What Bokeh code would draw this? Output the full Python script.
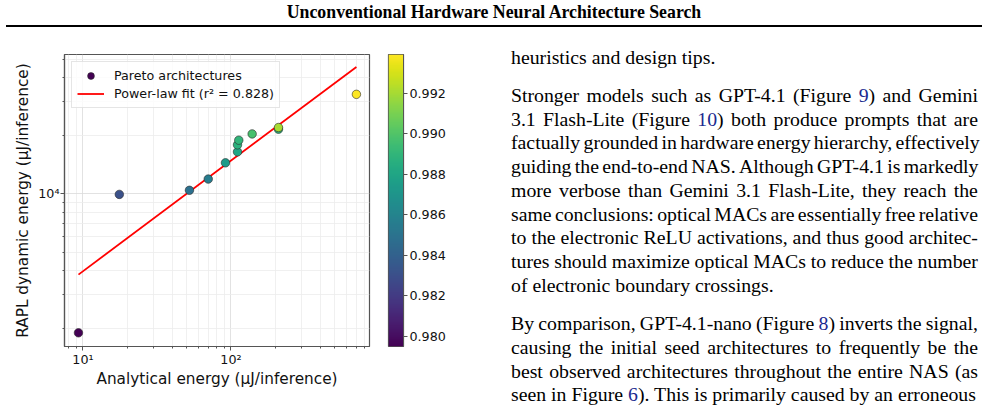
import re

import numpy as np
from bokeh.embed import file_html
from bokeh.layouts import column, row
from bokeh.models import (ColumnDataSource, Div, FixedTicker, Label, Legend,
                          LegendItem, LinearColorMapper, PrintfTickFormatter,
                          Range1d)
from bokeh.palettes import Viridis256
from bokeh.plotting import figure
from bokeh.resources import INLINE
from bokeh.transform import linear_cmap

# ---------------------------------------------------------------- data
# Pareto-front architectures: analytical vs measured (RAPL) energy
analytical_uj = [9.32, 17.6, 52.4, 70.2, 91.8, 110.7, 110.7, 112.9, 139.0, 209.4, 209.4, 704.0]
rapl_uj = [1905, 9950, 10450, 11950, 14510, 16540, 17980, 19010, 20490, 21680, 22120, 32870]
mnist_acc = [0.9795, 0.9831, 0.9848, 0.9856, 0.9874, 0.9880, 0.9887, 0.9890, 0.9897,
             0.9888, 0.9920, 0.9939]
fit_r2 = 0.828

x_ticks = [10, 100]
x_tick_labels = {10: "10\u00b9", 100: "10\u00b2"}
x_minor = [8, 9, 20, 30, 40, 50, 60, 70, 80, 90, 200, 300, 400, 500, 600, 700, 800]
y_ticks = [10000]
y_tick_labels = {10000: "10\u2074"}
y_minor = [2000, 3000, 4000, 5000, 6000, 7000, 8000, 9000, 20000, 30000, 40000, 50000]
acc_ticks = [0.980, 0.982, 0.984, 0.986, 0.988, 0.990, 0.992]

header_title = "Unconventional Hardware Neural Architecture Search"
paragraphs = [
    ["heuristics and design tips."],
    ["Stronger models such as GPT-4.1 (Figure {9}) and Gemini",
     "3.1 Flash-Lite (Figure {10}) both produce prompts that are",
     "factually grounded in hardware energy hierarchy, effectively",
     "guiding the end-to-end NAS. Although GPT-4.1 is markedly",
     "more verbose than Gemini 3.1 Flash-Lite, they reach the",
     "same conclusions: optical MACs are essentially free relative",
     "to the electronic ReLU activations, and thus good architec-",
     "tures should maximize optical MACs to reduce the number",
     "of electronic boundary crossings."],
    ["By comparison, GPT-4.1-nano (Figure {8}) inverts the signal,",
     "causing the initial seed architectures to frequently be the",
     "best observed architectures throughout the entire NAS (as",
     "seen in Figure {6}). This is primarily caused by an erroneous"],
]

# ---------------------------------------------------------------- styles
SANS = "DejaVu Sans"
TICK_PX = "12.7px"
LABEL_PX = "15.3px"
CB_LABEL_PX = "14.8px"
SPINE = "#555555"

acc_min, acc_max = min(mnist_acc), max(mnist_acc)

# ---------------------------------------------------------------- power-law fit
slope, intercept = np.polyfit(np.log10(analytical_uj), np.log10(rapl_uj), 1)
fit_x = np.array([min(analytical_uj), max(analytical_uj)])
fit_y = 10 ** intercept * fit_x ** slope

# ---------------------------------------------------------------- scatter figure
p = figure(width=376, height=378, x_axis_type="log", y_axis_type="log",
           x_range=Range1d(7.5, 863), y_range=Range1d(1618, 52900),
           output_backend="svg", toolbar_location=None,
           min_border_left=64, min_border_right=7, min_border_top=20,
           min_border_bottom=65)
p.background_fill_color = "white"
p.border_fill_color = "white"
p.outline_line_color = SPINE
p.outline_line_width = 1.2

p.xaxis.ticker = FixedTicker(ticks=x_ticks, minor_ticks=x_minor)
p.xaxis.major_label_overrides = x_tick_labels
p.yaxis.ticker = FixedTicker(ticks=y_ticks, minor_ticks=y_minor)
p.yaxis.major_label_overrides = y_tick_labels
p.xaxis.axis_label = "Analytical energy (\u03bcJ/inference)"
p.yaxis.axis_label = "RAPL dynamic energy (\u03bcJ/inference)"
for ax in (p.xaxis, p.yaxis):
    ax.axis_line_color = SPINE
    ax.axis_line_width = 1.2
    ax.major_tick_line_color = SPINE
    ax.minor_tick_line_color = SPINE
    ax.major_tick_out = 4
    ax.major_tick_in = 0
    ax.minor_tick_out = 2
    ax.minor_tick_in = 0
    ax.major_label_standoff = 1
    ax.major_label_text_font = SANS
    ax.major_label_text_font_size = TICK_PX
    ax.major_label_text_color = "#111111"
    ax.axis_label_text_font = SANS
    ax.axis_label_text_font_size = LABEL_PX
    ax.axis_label_text_font_style = "normal"
    ax.axis_label_text_color = "#111111"
p.xaxis.axis_label_standoff = 0
p.yaxis.axis_label_standoff = 3

for g in (p.xgrid, p.ygrid):
    g.grid_line_color = "#dadada"
    g.grid_line_width = 0.8
    g.minor_grid_line_color = "#ececec"
    g.minor_grid_line_width = 0.8

fit_r = p.line(fit_x, fit_y, line_color="#ff0000", line_width=1.8)

src = ColumnDataSource(dict(x=analytical_uj, y=rapl_uj, acc=mnist_acc))
pts = p.scatter("x", "y", source=src, size=8.5,
                fill_color=linear_cmap("acc", Viridis256, acc_min, acc_max),
                line_color="#2a2a2a", line_width=0.6)

legend = Legend(items=[
    LegendItem(label="Pareto architectures", renderers=[pts], index=0),
    LegendItem(label=f"Power-law fit (r\u00b2 = {fit_r2:.3f})", renderers=[fit_r]),
], location="top_left")
legend.margin = 7
legend.padding = 5
legend.spacing = 1
legend.label_height = 17
legend.glyph_height = 17
legend.glyph_width = 27
legend.label_standoff = 10
legend.label_text_font = SANS
legend.label_text_font_size = TICK_PX
legend.label_text_color = "#111111"
legend.background_fill_color = "white"
legend.background_fill_alpha = 0.8
legend.border_line_color = "#cccccc"
legend.border_line_width = 1
p.add_layout(legend)

# ---------------------------------------------------------------- colour bar
cb = figure(width=114, height=378, x_range=Range1d(0, 1),
            y_range=Range1d(acc_min, acc_max), x_axis_location=None,
            y_axis_location="right", output_backend="svg", toolbar_location=None,
            min_border_left=12, min_border_right=87, min_border_top=20,
            min_border_bottom=66)
cb.grid.visible = False
cb.outline_line_color = SPINE
cb.outline_line_width = 1.2
gradient = np.linspace(acc_min, acc_max, 256).reshape(-1, 1)
cb.image(image=[gradient], x=0, y=acc_min, dw=1, dh=acc_max - acc_min,
         color_mapper=LinearColorMapper(palette=Viridis256, low=acc_min, high=acc_max))
ya = cb.yaxis[0]
ya.ticker = FixedTicker(ticks=acc_ticks)
ya.formatter = PrintfTickFormatter(format="%.3f")
ya.axis_line_color = SPINE
ya.major_tick_line_color = SPINE
ya.major_tick_out = 4
ya.major_tick_in = 0
ya.minor_tick_out = 0
ya.minor_tick_in = 0
ya.major_label_standoff = 2
ya.major_label_text_font = SANS
ya.major_label_text_font_size = TICK_PX
ya.major_label_text_color = "#111111"
cb.add_layout(Label(x=69, y=145, x_units="screen", y_units="screen",
                    text="MNIST accuracy", angle=np.pi / 2, text_align="center",
                    text_baseline="middle", text_font=SANS,
                    text_font_size=CB_LABEL_PX, text_color="#111111"))

# ---------------------------------------------------------------- page text
SERIF = "'Liberation Serif', 'Times New Roman', serif"
LINK = "#1a2a8f"
FONT_PX = 19.8
LINE_H = 23.72
PARA_GAP = 14.6
TEXT_LEFT = 21
TEXT_W = 467
FIRST_BASELINE = 30.3      # relative to the top of the text column
BASELINE_OFF = 18.6        # baseline offset inside a line box


def word_html(w):
    return re.sub(r"\{(\d+)\}", lambda m: f'<span style="color:{LINK}">{m.group(1)}</span>', w)


lines_html = []
baseline = FIRST_BASELINE
for para in paragraphs:
    for i, line in enumerate(para):
        top = baseline - BASELINE_OFF
        last = i == len(para) - 1
        base_style = (f"position:absolute;left:{TEXT_LEFT}px;top:{top:.2f}px;"
                      f"width:{TEXT_W}px;height:{LINE_H}px;line-height:{LINE_H}px;"
                      "white-space:nowrap;")
        if last:
            inner = " ".join(word_html(w) for w in line.split(" "))
            lines_html.append(f'<div style="{base_style}">{inner}</div>')
        else:
            inner = "".join(f"<span>{word_html(w)}</span>" for w in line.split(" "))
            lines_html.append(
                f'<div style="{base_style}display:flex;justify-content:space-between;'
                f'column-gap:3.3px;">{inner}</div>')
        baseline += LINE_H
    baseline += PARA_GAP

text_div = Div(
    text=(f'<div style="position:relative;width:498px;height:378px;overflow:hidden;'
          f'font-family:{SERIF};font-size:{FONT_PX}px;color:#000;">'
          + "".join(lines_html) + "</div>"),
    width=498, height=378, margin=0)

header = Div(
    text=(f'<div style="position:relative;width:988px;height:34px;font-family:{SERIF};">'
          f'<div style="position:absolute;left:0;top:2px;width:988px;text-align:center;'
          f'font-weight:bold;font-size:17.8px;line-height:20px;color:#000;">{header_title}</div>'
          '<div style="position:absolute;left:6px;top:25px;width:976px;height:2px;'
          'background:#000;"></div></div>'),
    width=988, height=34, margin=0)

layout = column(header, row(p, cb, text_div, spacing=0), spacing=0)

open("out.html", "w").write(file_html(layout, INLINE))
